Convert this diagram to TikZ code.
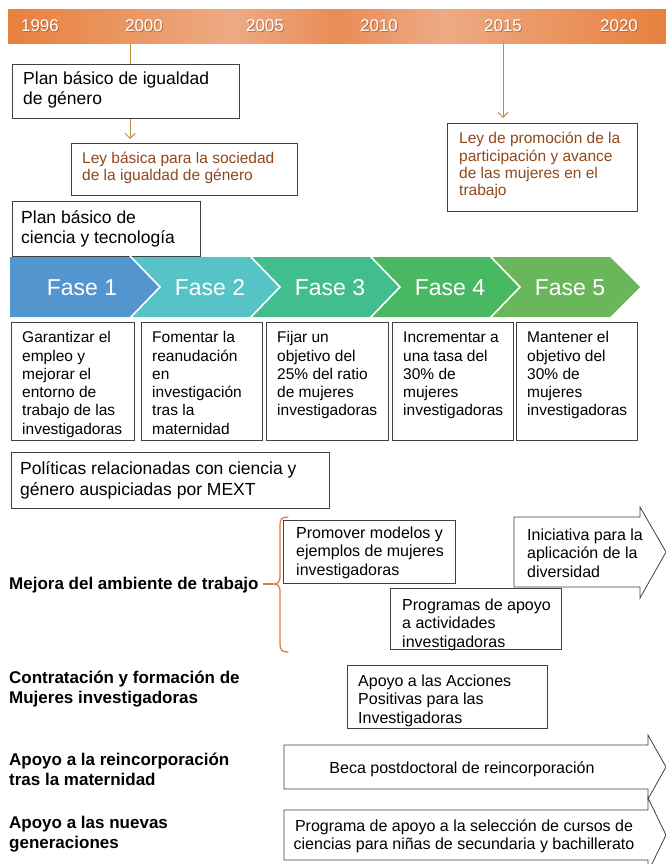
\documentclass[tikz,border=0pt]{standalone}
\usepackage{fontspec}
\setmainfont{Liberation Sans}
\usetikzlibrary{arrows.meta}
\definecolor{boxgray}{RGB}{64,64,64}
\definecolor{lawbrown}{RGB}{145,72,28}
\definecolor{goldline}{RGB}{191,144,60}
\definecolor{bracecol}{RGB}{222,120,55}
\definecolor{faseA}{RGB}{82,149,207}
\definecolor{faseB}{RGB}{86,195,198}
\definecolor{faseC}{RGB}{66,189,142}
\definecolor{faseD}{RGB}{72,184,98}
\definecolor{faseE}{RGB}{106,182,90}
\definecolor{bandA}{RGB}{232,128,62}
\definecolor{bandB}{RGB}{237,170,132}
\definecolor{bandC}{RGB}{233,140,86}
\definecolor{yrshadow}{RGB}{150,80,40}
\pgfdeclarehorizontalshading{bandshade}{100bp}{color(0bp)=(bandA); color(25bp)=(bandA); color(42bp)=(bandB); color(50bp)=(bandC); color(58bp)=(bandB); color(75bp)=(bandA); color(100bp)=(bandA)}
\newcommand\fstrut{\rule{0pt}{1em}}
\newcommand\fsBig{\fontsize{17.5}{20.7}\selectfont}
\newcommand\fsLaw{\fontsize{15.5}{17.2}\selectfont}
\newcommand\fsFase{\fontsize{15.5}{18.3}\selectfont}
\newcommand\fsLow{\fontsize{16}{18.5}\selectfont}
\newcommand\fsBold{\fontsize{17}{20.5}\selectfont\bfseries}
\begin{document}
\begin{tikzpicture}[x=1pt,y=-1pt,
  box/.style={draw=boxgray, line width=0.8pt, inner sep=0pt, anchor=north west, fill=white},
  txt/.style={inner sep=0pt, anchor=north west, align=left},
  yr/.style={inner sep=0pt, anchor=base, font=\fontsize{17}{20}\selectfont, text=white},
  yrs/.style={inner sep=0pt, anchor=base, font=\fontsize{17}{20}\selectfont, text=yrshadow, opacity=0.6},
  faselbl/.style={inner sep=0pt, anchor=base, font=\fontsize{23}{26}\selectfont, text=white},
  chev/.style={draw=white, line width=1.6pt, line join=miter},
  goldc/.style={draw=goldline, line width=1pt},
  barb/.style={-{Straight Barb[length=5pt,width=10pt,line width=1pt]}},
  bigarrow/.style={draw=boxgray, line width=0.8pt, fill=white, line join=miter}
]
\useasboundingbox (0,0) rectangle (666,864);
\fill[white] (0,0) rectangle (666,864);

% timeline band
\node (band) [rectangle, inner sep=0pt, minimum width=658pt, minimum height=34pt, anchor=north west, shade, shading=bandshade] at (8,9) {};
\foreach \yy/\xx in {1996/40,2000/144,2005/265,2010/379,2015/503,2020/619}{
  \node[yrs] (s\yy) at (\xx+1,33) {\yy};
  \node[yr] (y\yy) at (\xx,32) {\yy};
}

% top boxes
\node[box, minimum width=227pt, minimum height=54pt] (pbig) at (12,64) {};
\node[txt, font=\fsBig] (pbigt) at (23,66.5) {\fstrut Plan básico de igualdad\\de género};
\node[box, minimum width=226pt, minimum height=52pt] (lbas) at (71,143) {};
\node[txt, font=\fsLaw, text=lawbrown] (lbast) at (82,148) {\fstrut Ley básica para la sociedad\\de la igualdad de género};
\node[box, minimum width=188pt, minimum height=55pt] (pbc) at (12,201) {};
\node[txt, font=\fontsize{17.5}{20}\selectfont] (pbct) at (21,205.5) {\fstrut Plan básico de\\ciencia y tecnología};
\node[box, minimum width=190pt, minimum height=88pt] (lpro) at (447,123) {};
\node[txt, font=\fontsize{15.5}{17.4}\selectfont, text=lawbrown] (lprot) at (459,128) {\fstrut Ley de promoción de la\\participación y avance\\de las mujeres en el\\trabajo};

% connectors from timeline
\coordinate (c2000) at (130,43);
\coordinate (c2015) at (503,43);
\draw[goldc] (c2000) -- (c2000 |- pbig.north);
\draw[goldc, barb] (c2000 |- pbig.south) -- ([yshift=4pt]c2000 |- lbas.north);
\draw[goldc, barb] (c2015) -- ([yshift=5pt]c2015 |- lpro.north);

% chevrons
\fill[faseA] (10,257) -- (130,257) -- (160,287) -- (130,317) -- (10,317) -- cycle;
\foreach \xo/\cc in {130/faseB,250/faseC,370/faseD,490/faseE}{
  \fill[\cc] (\xo,257) -- (\xo+120,257) -- (\xo+150,287) -- (\xo+120,317) -- (\xo,317) -- (\xo+30,287) -- cycle;
}
\foreach \xo in {130,250,370,490}{
  \draw[chev] (\xo,256) -- (\xo+30,287) -- (\xo,318);
}
\node[faselbl] (f1) at (82,295) {Fase 1};
\node[faselbl] (f2) at (210,295) {Fase 2};
\node[faselbl] (f3) at (330,295) {Fase 3};
\node[faselbl] (f4) at (450,295) {Fase 4};
\node[faselbl] (f5) at (570,295) {Fase 5};

% phase boxes
\node[box, minimum width=123pt, minimum height=118pt] (b1) at (11,322) {};
\node[box, minimum width=121pt, minimum height=118pt] (b2) at (141,322) {};
\node[box, minimum width=122pt, minimum height=118pt] (b3) at (266,322) {};
\node[box, minimum width=121pt, minimum height=118pt] (b4) at (392,322) {};
\node[box, minimum width=121pt, minimum height=118pt] (b5) at (516,322) {};
\node[txt, font=\fsFase] (b1t) at (22,327) {\fstrut Garantizar el\\empleo y\\mejorar el\\entorno de\\trabajo de las\\investigadoras};
\node[txt, font=\fsFase] (b2t) at (152,327) {\fstrut Fomentar la\\reanudación\\en\\investigación\\tras la\\maternidad};
\node[txt, font=\fsFase] (b3t) at (277,327) {\fstrut Fijar un\\objetivo del\\25\% del ratio\\de mujeres\\investigadoras};
\node[txt, font=\fsFase] (b4t) at (403,327) {\fstrut Incrementar a\\una tasa del\\30\% de\\mujeres\\investigadoras};
\node[txt, font=\fsFase] (b5t) at (527,327) {\fstrut Mantener el\\objetivo del\\30\% de\\mujeres\\investigadoras};

% policies box
\node[box, minimum width=318pt, minimum height=56pt] (pol) at (11,452) {};
\node[txt, font=\fontsize{17.5}{21}\selectfont] (polt) at (20,456.5) {\fstrut Políticas relacionadas con ciencia y\\género auspiciadas por MEXT};

% row labels
\node[txt, font=\fsBold] (mej) at (9,572) {\fstrut Mejora del ambiente de trabajo};
\node[txt, font=\fsBold] (con) at (9,666) {\fstrut Contratación y formación de\\Mujeres investigadoras};
\node[txt, font=\fsBold] (rei) at (9,748) {\fstrut Apoyo a la reincorporación\\tras la maternidad};
\node[txt, font=\fsBold] (nue) at (9,811) {\fstrut Apoyo a las nuevas\\generaciones};

% brace
\draw[draw=bracecol, line width=1.2pt, line cap=round]
  (288,517) .. controls (282,517) and (280,519) .. (280,525) -- (280,577)
  .. controls (280,582) and (278,584) .. (273,584)
  .. controls (278,584) and (280,586) .. (280,591) -- (280,644)
  .. controls (280,650) and (282,652) .. (288,652);
\draw[draw=bracecol, line width=1.2pt] (mej.east |- 0,584) ++(4,0) -- (273,584);

% programme boxes
\node[box, minimum width=172pt, minimum height=63pt] (prom) at (283,520) {};
\node[txt, font=\fsLow] (promt) at (296,522) {\fstrut Promover modelos y\\ejemplos de mujeres\\investigadoras};
\node[box, minimum width=171pt, minimum height=61pt] (prog) at (390,588) {};
\node[txt, font=\fsLow] (progt) at (402,594) {\fstrut Programas de apoyo\\a actividades\\investigadoras};
\node[box, minimum width=200pt, minimum height=63pt] (apac) at (347,665) {};
\node[txt, font=\fsLow] (apact) at (358,670) {\fstrut Apoyo a las Acciones\\Positivas para las\\Investigadoras};

% block arrows
\draw[bigarrow] (514,517) -- (640,517) -- (640,507) -- (666,552) -- (640,598) -- (640,587) -- (514,587) -- cycle;
\node[txt, font=\fsLow] (init) at (527,524) {\fstrut Iniciativa para la\\aplicación de la\\diversidad};
\draw[bigarrow] (284,745) -- (648,745) -- (648,735) -- (666,767) -- (648,799) -- (648,789) -- (284,789) -- cycle;
\node[inner sep=0pt, anchor=base, font=\fsLow] (beca) at (462,773) {Beca postdoctoral de reincorporación};
\draw[bigarrow] (284,810) -- (648,810) -- (648,798) -- (666,835) -- (648,872) -- (648,860) -- (284,860) -- cycle;
\node[inner sep=0pt, anchor=north, align=center, font=\fsLow] (prgm) at (464,815) {\fstrut Programa de apoyo a la selección de cursos de\\ciencias para niñas de secundaria y bachillerato};
\end{tikzpicture}
\end{document}
